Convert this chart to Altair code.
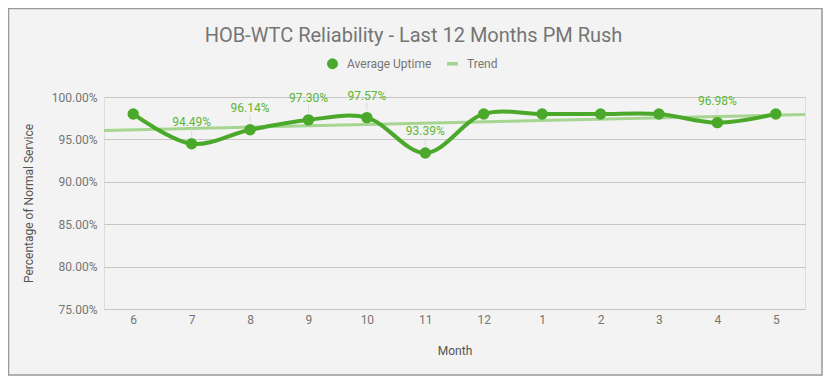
import altair as alt
import pandas as pd

months = ["6", "7", "8", "9", "10", "11", "12", "1", "2", "3", "4", "5"]
uptime = [0.98, 0.9449, 0.9614, 0.9730, 0.9757, 0.9339, 0.98, 0.98, 0.98, 0.98, 0.9698, 0.98]
show_label = [False, True, True, True, True, True, False, False, False, False, True, False]
y_ticks = [0.75, 0.80, 0.85, 0.90, 0.95, 1.00]
series_names = ["Average Uptime", "Trend"]

LINE = "#4aa82a"
TREND = "#a6d592"
LABEL = "#5cb634"
TEXT = "#757575"

df = pd.DataFrame({
    "idx": list(range(1, len(months) + 1)),
    "month": months,
    "uptime": uptime,
    "show": show_label,
    "series": [series_names[0]] * len(months),
})

label_expr = "[" + ",".join("'%s'" % m for m in months) + "][datum.value - 1]"

x_enc = alt.X(
    "idx:Q",
    scale=alt.Scale(domain=[0.5, len(months) + 0.5], nice=False, zero=False),
    axis=alt.Axis(
        values=list(range(1, len(months) + 1)), labelExpr=label_expr, title="Month",
        grid=False, ticks=False, domain=False, labelPadding=5, titlePadding=20,
        labelFontSize=12, titleFontSize=12, labelColor=TEXT, titleColor="#555555",
        titleFontWeight="normal", labelFont="Roboto", titleFont="Roboto",
    ),
)
y_enc = alt.Y(
    "uptime:Q",
    scale=alt.Scale(domain=[0.75, 1.0], nice=False, zero=False),
    axis=alt.Axis(
        values=y_ticks, format=".2%", title="Percentage of Normal Service",
        grid=True, gridColor="#c6c6c6", ticks=False, domain=False, labelPadding=7,
        titlePadding=16, labelFontSize=12, titleFontSize=12, labelColor=TEXT,
        titleColor="#555555", titleFontWeight="normal", labelFont="Roboto", titleFont="Roboto",
    ),
)

base = alt.Chart(df)

frame = alt.Chart(alt.Data(values=[{}])).mark_rect(
    filled=False, stroke="#9a9a9a", strokeWidth=1.5
).encode(
    x=alt.value(-95.5), x2=alt.value(718), y=alt.value(-88.5), y2=alt.value(278)
)

trend = base.transform_regression(
    "idx", "uptime", extent=[0.5, len(months) + 0.5]
).mark_line(color=TREND, strokeWidth=3).encode(x=x_enc, y=y_enc)

line = base.mark_line(color=LINE, strokeWidth=4, interpolate="catmull-rom").encode(x=x_enc, y=y_enc)

legend_def = dict(title=None, orient="none", legendX=222, legendY=-40,
                  direction="horizontal", labelFontSize=12, labelColor=TEXT,
                  labelFont="Roboto", symbolSize=120, labelOffset=8, columnPadding=14)

points = base.mark_point(filled=True, size=130, opacity=1).encode(
    x=x_enc, y=y_enc,
    color=alt.Color("series:N", scale=alt.Scale(domain=series_names, range=[LINE, TREND]),
                    legend=alt.Legend(**legend_def)),
    shape=alt.Shape("series:N", scale=alt.Scale(domain=series_names,
                                                 range=["circle", "M-1,-0.33H1V0.33H-1Z"]),
                    legend=alt.Legend(**legend_def)),
)

leaders = base.transform_filter("datum.show").mark_rule(
    color="#dcdcdc", strokeWidth=1, yOffset=-7, y2Offset=-15
).encode(x=x_enc, y=y_enc, y2="uptime:Q")

labels = base.transform_filter("datum.show").mark_text(
    color=LABEL, fontSize=12, font="Roboto", dy=-22, baseline="middle"
).encode(x=x_enc, y=y_enc, text=alt.Text("uptime:Q", format=".2%"))

chart = alt.layer(frame, trend, leaders, line, points, labels).properties(
    width=701, height=212,
    autosize=alt.AutoSizeParams(type="none"),
    padding={"left": 96, "top": 89, "right": 18, "bottom": 67},
    background="#f3f3f3",
    title=alt.TitleParams(
        "HOB-WTC Reliability - Last 12 Months PM Rush", fontSize=20, color=TEXT,
        font="Roboto", fontWeight="normal", anchor="middle", frame="group", dx=-41, offset=-38,
    ),
).configure_view(stroke=None).configure(font="Roboto")

chart.save("out.html", embed_options={"renderer": "svg", "actions": False})
